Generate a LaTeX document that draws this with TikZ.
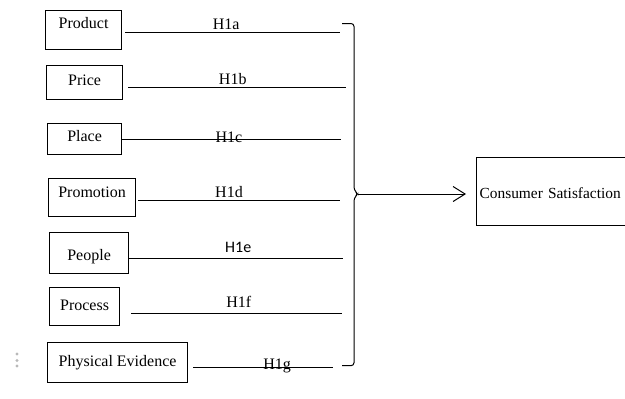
\documentclass[tikz,border=0pt]{standalone}
\usepackage{fontspec}
\setmainfont{Liberation Serif}
\newfontfamily\sansfont{Carlito}
\usetikzlibrary{arrows.meta}

\begin{document}
\begin{tikzpicture}[x=1pt, y=-1pt, >={Straight Barb[length=12pt,width=15pt]},
    font=\fontsize{16}{19}\selectfont,
    factor/.style={draw, line width=1.2pt, inner sep=0pt, anchor=north west},
    link/.style={line width=1pt},
    hyp/.style={anchor=base, inner sep=0pt}]
  \useasboundingbox (0,0) rectangle (625,399);
  \clip (0,0) rectangle (625,399);

  % the seven factors
  \node[factor, minimum width=76pt, text height=18pt, text depth=21pt] (product) at (45,10) {Product};
  \node[factor, minimum width=76pt, text height=19.6pt, text depth=14.4pt] (price) at (46,65) {Price};
  \node[factor, minimum width=74pt, text height=17.5pt, text depth=13.5pt] (place) at (47,123) {Place};
  \node[factor, minimum width=87pt, text height=19pt, text depth=19pt] (promotion) at (48,178) {Promotion};
  \node[factor, minimum width=79pt, text height=27.6pt, text depth=13.4pt] (people) at (49,232) {People};
  \node[factor, minimum width=70pt, text height=22.6pt, text depth=15.4pt] (process) at (49,287) {Process};
  \node[factor, minimum width=140pt, text height=23.6pt, text depth=16.4pt] (evidence) at (47,342) {Physical Evidence};

  \node[factor, text width=180pt, align=left, inner xsep=3pt, text height=41pt, text depth=27pt,
        font=\fontsize{15.4}{18}\selectfont] (satisfaction) at (476,157) {Consumer Satisfaction};

  % hypothesis lines
  \coordinate (ea) at (340,32.5);
  \coordinate (eb) at (346,87.3);
  \coordinate (ec) at (341,139.3);
  \coordinate (ed) at (340,200.3);
  \coordinate (ee) at (343,258.5);
  \coordinate (ef) at (342,313.5);
  \coordinate (eg) at (333,367.3);

  \draw[link] ([xshift=3pt]product.east |- ea) -- (ea) node[hyp, pos=0.47, yshift=3pt] {H1a};
  \draw[link] ([xshift=5pt]price.east |- eb) -- (eb) node[hyp, pos=0.48, yshift=2.7pt] {H1b};
  \draw[link] ([xshift=-1pt]place.east |- ec) -- (ec) node[hyp, pos=0.49, yshift=-3pt] {H1c};
  \draw[link] ([xshift=2pt]promotion.east |- ed) -- (ed) node[hyp, pos=0.45, yshift=3pt] {H1d};
  \draw[link] (people.east |- ee) -- (ee) node[hyp, pos=0.51, yshift=6pt, font=\sansfont\fontsize{16}{19}\selectfont] {H1e};
  \draw[link] ([xshift=11pt]process.east |- ef) -- (ef) node[hyp, pos=0.51, yshift=6.5pt] {H1f};
  \draw[link] ([xshift=5pt]evidence.east |- eg) -- (eg) node[hyp, pos=0.6, yshift=-2pt] {H1g};

  % bracket and arrow
  \coordinate (tip) at (358,194);
  \draw[link, rounded corners=3pt] (342,23.5) -- (354,23.5) -- (354,190) -- (tip) -- (354,198) -- (354,365.7) -- (342,365.7);
  \draw[link, ->] (tip) -- ([xshift=-10pt]satisfaction.west |- tip);

  % handle marks
  \foreach \y in {354,360.5,366}
    \fill[gray!55] (17,\y) circle (1.6pt);
\end{tikzpicture}
\end{document}
